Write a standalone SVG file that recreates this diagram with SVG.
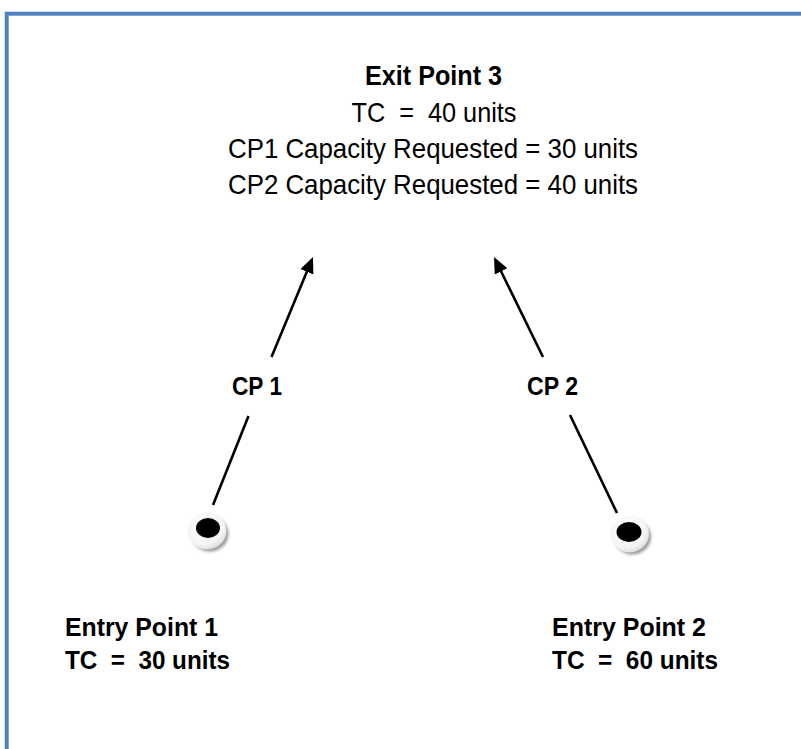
<svg xmlns="http://www.w3.org/2000/svg" width="801" height="749" viewBox="0 0 801 749">
  <style>
    .t { font-family: "Liberation Sans", Arial, sans-serif; fill: #000; white-space: pre; }
    .b { font-weight: bold; }
    .line { stroke: #000; stroke-width: 2.6; fill: none; }
  </style>
  <defs>
    <marker id="arrow" markerUnits="userSpaceOnUse" markerWidth="18" markerHeight="16" refX="4" refY="7" orient="auto">
      <path d="M0,0 L16,7 L0,14 z" fill="#000"/>
    </marker>
    <filter id="blur" x="-30%" y="-30%" width="160%" height="160%">
      <feGaussianBlur stdDeviation="1.5"/>
    </filter>
    <radialGradient id="disc" cx="40%" cy="35%" r="70%">
      <stop offset="0" stop-color="#ffffff"/>
      <stop offset="0.75" stop-color="#f4f4f4"/>
      <stop offset="1" stop-color="#d8d8d8"/>
    </radialGradient>
  </defs>
  <rect width="801" height="749" fill="#fff"/>
  <rect x="6.7" y="13.7" width="900" height="900" fill="none" stroke="#4F81BD" stroke-width="4"/>

  <g id="exit-point-3">
    <text class="t b" x="433.5" y="85" font-size="27" text-anchor="middle" textLength="137" lengthAdjust="spacingAndGlyphs">Exit Point 3</text>
    <text class="t" x="434" y="121.5" font-size="28" text-anchor="middle" textLength="165" lengthAdjust="spacingAndGlyphs">TC  =  40 units</text>
    <text class="t" x="433" y="158" font-size="28" text-anchor="middle" textLength="410" lengthAdjust="spacingAndGlyphs">CP1 Capacity Requested = 30 units</text>
    <text class="t" x="433" y="194" font-size="28" text-anchor="middle" textLength="410" lengthAdjust="spacingAndGlyphs">CP2 Capacity Requested = 40 units</text>
  </g>

  <g id="entry-point-1">
    <ellipse cx="210" cy="534" rx="18.5" ry="17.5" fill="#9a9a9a" filter="url(#blur)"/>
    <ellipse cx="207" cy="531" rx="19.5" ry="18.5" fill="url(#disc)"/>
    <ellipse cx="208" cy="528" rx="12" ry="10" fill="#000"/>
    <text class="t b" x="65" y="636" font-size="26" textLength="153" lengthAdjust="spacingAndGlyphs">Entry Point 1</text>
    <text class="t b" x="65" y="669" font-size="26" textLength="165" lengthAdjust="spacingAndGlyphs">TC  =  30 units</text>
  </g>

  <g id="entry-point-2">
    <ellipse cx="632.5" cy="537" rx="18.5" ry="17.5" fill="#9a9a9a" filter="url(#blur)"/>
    <ellipse cx="629.5" cy="534" rx="19.5" ry="18.5" fill="url(#disc)"/>
    <ellipse cx="629" cy="532" rx="12.5" ry="10" fill="#000"/>
    <text class="t b" x="552" y="636" font-size="26" textLength="154" lengthAdjust="spacingAndGlyphs">Entry Point 2</text>
    <text class="t b" x="552" y="669" font-size="26" textLength="166" lengthAdjust="spacingAndGlyphs">TC  =  60 units</text>
  </g>

  <g id="connectors">
    <g id="cp1">
      <line class="line" x1="213" y1="505" x2="248.5" y2="416"/>
      <line class="line" x1="271.5" y1="357" x2="308.4" y2="268.1" marker-end="url(#arrow)"/>
      <text class="t b" x="232" y="395" font-size="26" textLength="50" lengthAdjust="spacingAndGlyphs">CP 1</text>
    </g>
    <g id="cp2">
      <line class="line" x1="617" y1="513" x2="570" y2="415"/>
      <line class="line" x1="543" y1="357" x2="499.3" y2="267.8" marker-end="url(#arrow)"/>
      <text class="t b" x="527" y="395" font-size="26" textLength="51" lengthAdjust="spacingAndGlyphs">CP 2</text>
    </g>
  </g>
</svg>
